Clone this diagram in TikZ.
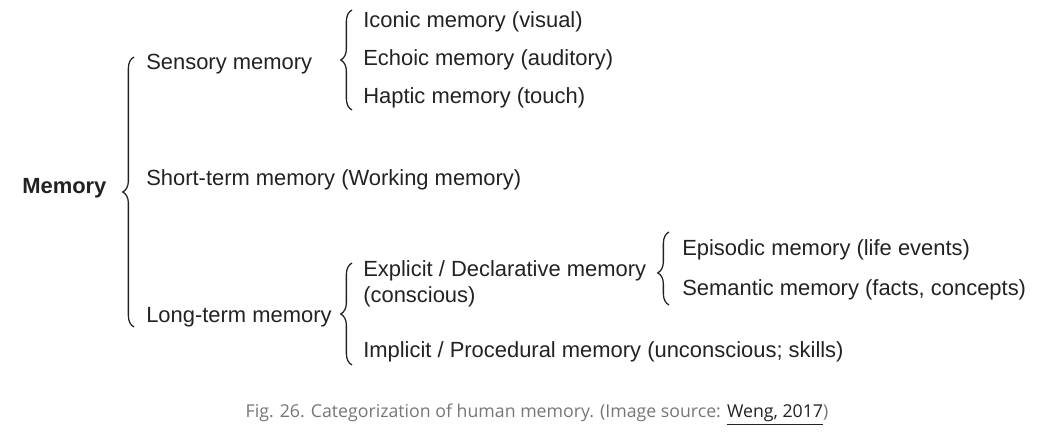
\documentclass[tikz,border=0pt]{standalone}
\usepackage{fontspec}
\setmainfont{Liberation Sans}
\newfontfamily\capfont{Open Sans}
\usetikzlibrary{decorations.pathreplacing}
\definecolor{ink}{HTML}{222222}
\definecolor{capgray}{HTML}{767676}

\begin{document}
\begin{tikzpicture}[
    x=0.025cm, y=-0.025cm,
    item/.style={anchor=base west, inner sep=0pt, text=ink,
                 font=\fontsize{15.6}{19}\selectfont},
    root/.style={item, font=\fontsize{15.6}{19}\selectfont\bfseries},
    curly/.style={draw=ink, line width=0.9pt, decorate,
                  decoration={brace, amplitude=8pt, aspect=#1}},
    curly/.default=0.5
]

\useasboundingbox (0,0) rectangle (1053,444);

% labels
\node[root] (mem) at (22,194) {Memory};

\node[item] (sens)  at (146,70)  {Sensory memory};
\node[item] (short) at (146,186) {Short-term memory (Working memory)};
\node[item] (long)  at (146,323) {Long-term memory};

\node[item] (icon) at (363,28)  {Iconic memory (visual)};
\node[item] (echo) at (363,66)  {Echoic memory (auditory)};
\node[item] (hapt) at (363,104) {Haptic memory (touch)};

% base of a two-line node sits on its last line
\node[item, align=left] (expl) at (363,303) {Explicit / Declarative memory\\(conscious)};
\node[item] (impl) at (363,358) {Implicit / Procedural memory (unconscious; skills)};

\node[item] (epis) at (682,256) {Episodic memory (life events)};
\node[item] (sema) at (682,296) {Semantic memory (facts, concepts)};

% braces
\coordinate (memTop) at (134,57);
\coordinate (memBot) at (134,327);
\coordinate (sensTop) at (352,10);
\coordinate (sensBot) at (352,110);
\coordinate (longTop) at (352,263);
\coordinate (longBot) at (352,365);
\coordinate (explTop) at (669,232);
\coordinate (explBot) at (669,305);

\draw[curly] (memBot) -- (memTop);
\draw[curly] (sensBot) -- (sensTop);
\draw[curly] (longBot) -- (longTop);
\draw[curly=0.44] (explBot) -- (explTop);

\node[anchor=base, inner sep=0pt, text=capgray, font=\capfont\fontsize{12.6}{15}\selectfont]
    (caption) at (537,418)
    {Fig. 26. Categorization of human memory. (Image source: \textcolor{ink}{\underline{Weng, 2017}})};

\end{tikzpicture}
\end{document}
